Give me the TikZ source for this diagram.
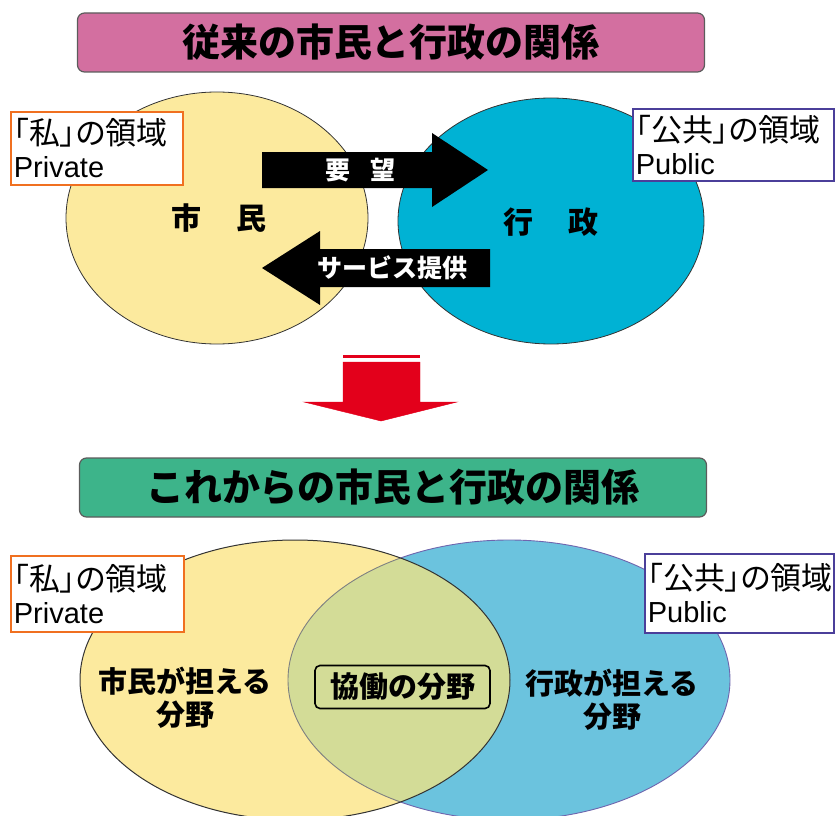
\documentclass[tikz,border=0pt]{standalone}
\usepackage{fontspec}
\setmainfont{Liberation Sans}
\newfontfamily\jp{Noto Sans CJK JP}
\newfontfamily\jpp[RawFeature=+palt]{Noto Sans CJK JP}
\definecolor{pinkc}{HTML}{D36FA0}
\definecolor{greenc}{HTML}{3DB48A}
\definecolor{yel}{HTML}{FCEA9E}
\definecolor{blutop}{HTML}{00B2D4}
\definecolor{blubot}{HTML}{6BC3DE}
\definecolor{lens}{HTML}{D3DC97}
\definecolor{redc}{HTML}{E3001B}
\definecolor{orangec}{HTML}{F07020}
\definecolor{purplec}{HTML}{4B3F9A}
\definecolor{edgec}{HTML}{333333}
\tikzset{
  titlebar/.style={draw=edgec!80, line width=1.2pt, rounded corners=7pt, inner sep=0pt, minimum width=627pt, minimum height=59pt},
  titletext/.style={font=\jp\bfseries\fontsize{38}{42}\selectfont},
  labelbox/.style={draw=#1, line width=1.8pt, fill=white, anchor=north west, inner xsep=3pt, inner ysep=1pt, align=left, font=\fontsize{29}{33}\selectfont},
  big/.style={font=\jp\bfseries\fontsize{29}{33}\selectfont, align=center},
  arrtext/.style={text=white, font=\jp\bfseries\fontsize{25}{28}\selectfont},
  ell/.style={draw=edgec, line width=0.8pt},
}
\newcommand{\lbl}[2]{{\jpp\fontsize{31}{33}\selectfont #1}\\{#2}}
\begin{document}
\begin{tikzpicture}[x=1pt,y=-1pt]
\useasboundingbox (0,0) rectangle (839,816);
\clip (0,0) rectangle (839,816);

% ---------- top ----------
\node[titlebar, fill=pinkc] (t1) at (391,42.5) {};
\node[titletext] (t1text) at (t1.center) {従来の市民と行政の関係};

\draw[ell, fill=yel] (217,218) ellipse [x radius=151, y radius=126];
\draw[ell, fill=blutop] (551,221) ellipse [x radius=153, y radius=123];

\node[big, font=\jp\bfseries\fontsize{30}{34}\selectfont] (shimin) at (219,218) {市\hspace{1.15em}民};
\node[big, font=\jp\bfseries\fontsize{30}{34}\selectfont] (gyosei) at (551,222) {行\hspace{1.15em}政};

% request arrow
\fill[black] (262,152) -- (432,152) -- (432,133) -- (488,170) -- (432,207) -- (432,188) -- (262,188) -- cycle;
\node[arrtext] (yobo) at (360,170) {要\hspace{0.8em}望};
% service arrow
\fill[black] (490,249) -- (320,249) -- (320,231) -- (262,268) -- (320,305) -- (320,287) -- (490,287) -- cycle;
\node[arrtext] (service) at (392,268) {サービス提供};

\node[labelbox=orangec, text width=166pt, minimum height=73pt] (priv1) at (10,111) {\lbl{「私」の領域}{Private}};
\node[labelbox=purplec, text width=195pt, minimum height=72pt] (pub1) at (632,108) {\lbl{「公共」の領域}{Public}};

% red arrow
\fill[redc] (343,354.5) rectangle (420,358);
\draw[redc, line width=0.4pt, fill=redc] (343,362) -- (420,362) -- (420,402) -- (457,402) -- (381,421) -- (304,402) -- (343,402) -- cycle;

% ---------- bottom ----------
\node[titlebar, fill=greenc] (t2) at (393,487.5) {};
\node[titletext] (t2text) at (t2.center) {これからの市民と行政の関係};

\fill[yel] (295,680) ellipse [x radius=215, y radius=140];
\fill[blubot] (509,680) ellipse [x radius=221, y radius=140];
\begin{scope}
  \clip (295,680) ellipse [x radius=215, y radius=140];
  \fill[lens] (509,680) ellipse [x radius=221, y radius=140];
  \draw[gray, line width=0.9pt] (509,680) ellipse [x radius=221, y radius=140];
\end{scope}
\begin{scope}
  \clip (0,0) rectangle (839,816) (295,680) ellipse [x radius=215, y radius=140];
  \draw[purplec!80, line width=0.9pt] (509,680) ellipse [x radius=221, y radius=140];
\end{scope}
\draw[edgec, line width=1pt] (295,680) ellipse [x radius=215, y radius=140];

\node[big] (shiminarea) at (185,698) {市民が担える\\分野};
\node[big] (gyoseiarea) at (612,700) {行政が担える\\分野};
\node[draw=black, line width=1.6pt, rounded corners=5pt, minimum width=175pt, minimum height=43pt, inner sep=0pt, font=\jp\bfseries\fontsize{29}{34}\selectfont] (kyodo) at (402.5,687) {協働の分野};

\node[labelbox=orangec, text width=167pt, minimum height=76pt] (priv2) at (10,555) {\lbl{「私」の領域}{Private}};
\node[labelbox=purplec, text width=183pt, minimum height=79pt] (pub2) at (644,553) {\lbl{「公共」の領域}{Public}};
\end{tikzpicture}
\end{document}
